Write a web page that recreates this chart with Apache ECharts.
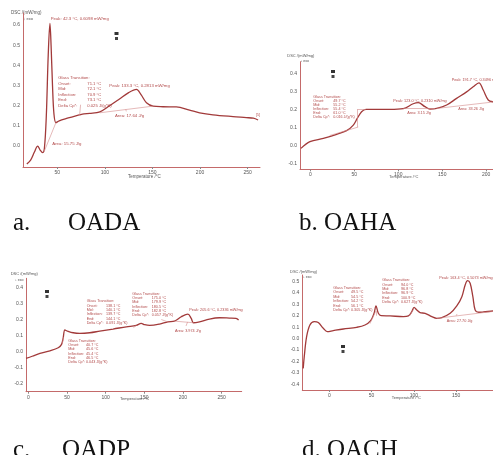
<!DOCTYPE html>
<html><head><meta charset="utf-8">
<script src="https://cdn.jsdelivr.net/npm/echarts@6/dist/echarts.min.js"></script>
<style>html,body{margin:0;padding:0;background:#fff}#c{width:493px;height:455px}</style>
</head><body><div id="c"></div>
<script>
// ---------- DATA ----------
const captions = ['a.', 'OADA', 'b. OAHA', 'c.', 'OADP', 'd. OACH'];
const xTicks = [0, 50, 100, 150, 200, 250];
const yTicksA = [0.0, 0.1, 0.2, 0.3, 0.4, 0.5, 0.6];
const yTicksB = [-0.1, 0.0, 0.1, 0.2, 0.3, 0.4];
const yTicksC = [-0.2, -0.1, 0.0, 0.1, 0.2, 0.3, 0.4];
const yTicksD = [-0.4, -0.3, -0.2, -0.1, 0.0, 0.1, 0.2, 0.3, 0.4, 0.5];

// OADA
const curveA = [[18,-0.089],[22,-0.07],[26,-0.03],[29.4,0.0],[32,-0.02],[34.6,-0.033],[36.5,-0.01],[38.5,0.15],[40.5,0.45],[42.3,0.608],[43.5,0.5],[45,0.3],[46.5,0.16],[48.6,0.116],[52,0.125],[59.8,0.137],[66,0.145],[73,0.154],[78,0.16],[84,0.162],[94.8,0.17],[105,0.2],[115,0.232],[125,0.265],[133.2,0.281],[138,0.255],[143.7,0.215],[150.7,0.198],[161,0.195],[175,0.194],[189,0.178],[199.6,0.165],[213.6,0.155],[234.6,0.146],[248.6,0.141],[256,0.138],[261,0.129]];
const guidesA = [[[48.6,0.116],[36,-0.03]],[[94.8,0.165],[150.7,0.198]],[[73.5,0.154],[74.5,0.205]],[[122,0.182],[122.5,0.172]]];
// OAHA
const curveB = [[-10.6,-0.013],[-0.4,0.024],[14.8,0.042],[30,0.065],[41.3,0.085],[48.9,0.116],[53.4,0.153],[58.3,0.19],[63.3,0.203],[75.4,0.203],[90.5,0.203],[105.7,0.207],[117,0.234],[122.7,0.24],[130.3,0.218],[136,0.205],[143.6,0.208],[155,0.227],[166.3,0.264],[177.7,0.3],[185.2,0.328],[191.7,0.35],[196.6,0.31],[202.3,0.255],[207.6,0.245],[215,0.243]];
const guidesB = [[[22,0.058],[54.5,0.105]],[[53.4,0.105],[53.4,0.203]],[[53.4,0.203],[63,0.203]],[[105.7,0.207],[141.7,0.207]],[[143.6,0.208],[210,0.245]]];
// OADP
const curveC = [[-3,-0.041],[5,-0.028],[15,-0.01],[28,0.006],[38.7,0.025],[43,0.046],[45,0.083],[47.3,0.135],[50.7,0.128],[58,0.118],[66.6,0.114],[79.5,0.118],[92.4,0.128],[109.6,0.141],[126.8,0.155],[139.7,0.164],[146,0.176],[150.5,0.168],[157,0.164],[169.8,0.172],[180.5,0.186],[189,0.19],[197.8,0.217],[206.4,0.234],[210.7,0.207],[213.7,0.18],[221.4,0.186],[234.3,0.203],[247.2,0.211],[260,0.209],[268.7,0.207],[272,0.197]];
const guidesC = [[[45.6,0.09],[44,0.05]],[[140,0.164],[136,0.15]],[[180,0.186],[172,0.2]],[[189,0.19],[214,0.18]],[[206,0.185],[204,0.16]]];
// OACH
const curveD = [[-30.8,-0.259],[-29.6,-0.157],[-26.8,0.017],[-22.9,0.119],[-17.8,0.148],[-13,0.14],[-7.1,0.09],[-2.4,0.061],[4.7,0.07],[16.6,0.084],[32.4,0.099],[42.2,0.119],[48.9,0.157],[52.9,0.221],[55.2,0.285],[58,0.221],[61.2,0.2],[71.8,0.198],[87.6,0.192],[93.5,0.198],[97.5,0.235],[100.2,0.273],[103.4,0.25],[107.3,0.227],[113.3,0.221],[121.2,0.192],[127,0.177],[133,0.183],[142.9,0.221],[150.7,0.285],[156.7,0.366],[160.6,0.468],[163.4,0.506],[166.5,0.483],[169.7,0.366],[172.4,0.25],[176.4,0.23],[182.3,0.233],[193.8,0.241],[200,0.243]];
const guidesD = [[[48,0.13],[55,0.24]],[[55,0.24],[55,0.2]],[[95,0.2],[100,0.26]],[[127,0.177],[200,0.243]],[[150,0.2],[151,0.215]]];

// annotation texts
const gtA = ['Glass Transition:','Onset:','Mid:','Inflection:','End:','Delta Cp*:'];
const gtValA = ['','71.1 °C','72.1 °C','70.9 °C','73.1 °C','0.025 J/(g*K)'];
const gtValB = ['','49.7 °C','55.2 °C','55.4 °C','61.0 °C','0.016 J/(g*K)'];
const gtValC1 = ['','138.1 °C','140.1 °C','139.7 °C','144.1 °C','0.091 J/(g*K)'];
const gtValC2 = ['','175.0 °C','179.9 °C','180.5 °C','182.8 °C','0.057 J/(g*K)'];
const gtValC3 = ['','40.7 °C','45.6 °C','45.4 °C','46.5 °C','0.043 J/(g*K)'];
const gtValD1 = ['','49.5 °C','54.5 °C','54.2 °C','56.1 °C','0.305 J/(g*K)'];
const gtValD2 = ['','94.0 °C','96.8 °C','96.9 °C','100.9 °C','0.627 J/(g*K)'];

// ---------- CHART ----------
const RED = '#a23a3a', AX = '#c46a6a', TX = '#b24a4a', LAB = '#555';
const panels = [
  {grid:{left:23, top:13, width:237, height:154}, x:[14,263], y:[-0.104,0.66], yt:yTicksA, data:curveA, g:guidesA},
  {grid:{left:300, top:61.7, width:239, height:107.6}, x:[-11.7,260], y:[-0.129,0.467], yt:yTicksB, data:curveB, g:guidesB},
  {grid:{left:26, top:278.3, width:215.7, height:113.4}, x:[-3,276], y:[-0.248,0.456], yt:yTicksC, data:curveC, g:guidesC},
  {grid:{left:302.3, top:275, width:238.5, height:115}, x:[-31.9,250], y:[-0.448,0.555], yt:yTicksD, data:curveD, g:guidesD}
];
const font = 'Liberation Sans, Arial, sans-serif';
const option = {animation:false, backgroundColor:'#fff', grid:[], xAxis:[], yAxis:[], series:[], graphic:[]};
panels.forEach((p,i)=>{
  option.grid.push(Object.assign({containLabel:false, outerBoundsMode:'none'}, p.grid));
  option.xAxis.push({type:'value', gridIndex:i, min:p.x[0], max:p.x[1],
    axisLine:{onZero:false, lineStyle:{color:AX, width:1}},
    axisTick:{customValues:xTicks.filter(v=>v>=p.x[0]&&v<=p.x[1]), length:2, lineStyle:{color:'#888'}},
    axisLabel:{customValues:xTicks.filter(v=>v>=p.x[0]&&v<=p.x[1]), fontSize:5, color:LAB, margin:3, fontFamily:font, hideOverlap:false},
    splitLine:{show:false}});
  option.yAxis.push({type:'value', gridIndex:i, min:p.y[0], max:p.y[1],
    axisLine:{show:true, onZero:false, lineStyle:{color:AX, width:1}},
    axisTick:{show:false},
    axisLabel:{customValues:p.yt, fontSize:5, color:LAB, margin:3, fontFamily:font, formatter:v=>v.toFixed(1)},
    splitLine:{show:false}});
  option.series.push({type:'line', xAxisIndex:i, yAxisIndex:i, data:p.data, showSymbol:false, smooth:0.35,
    lineStyle:{color:RED, width:1.3}, silent:true,
    markLine:{silent:true, symbol:'none', label:{show:false}, lineStyle:{color:'#d48a8a', width:0.6, type:'solid'},
      data:p.g.map(s=>[{coord:s[0]},{coord:s[1]}])}});
});
function T(x,y,s,size,color){
  return {type:'text', x:x, y:y, silent:true,
    style:{text:s, fontSize:size, fill:color||TX, fontFamily:font, verticalAlign:'middle'}};
}
function block(x,y,vx,vals,size,lh){
  option.graphic.push({type:'text',x:x,y:y,silent:true,style:{text:gtA.join('\n'),fontSize:size,fill:TX,fontFamily:font,lineHeight:lh,verticalAlign:'top'}});
  option.graphic.push({type:'text',x:vx,y:y,silent:true,style:{text:vals.join('\n'),fontSize:size,fill:TX,fontFamily:font,lineHeight:lh,verticalAlign:'top'}});
}
function icon(x,y){
  option.graphic.push({type:'rect',shape:{x:x,y:y,width:4,height:3},style:{fill:'#333'},silent:true});
  option.graphic.push({type:'rect',shape:{x:x+0.5,y:y+5,width:3,height:3},style:{fill:'#444'},silent:true});
}
const G = option.graphic;
// panel a
G.push(T(11,13,'DSC /(mW/mg)',4.5,LAB), T(23.5,18.5,'↓ exo',4,LAB));
G.push(T(50.7,19,'Peak: 42.3 °C, 0.6098 mW/mg',4.3));
block(58.3,75,87.3,gtValA,4.2,5.6);
G.push(T(109.3,86,'Peak: 133.3 °C, 0.2813 mW/mg',4.3), T(115,115.7,'Area: 17.64 J/g',4.3), T(52.3,144,'Area: 15.75 J/g',4.3));
G.push(T(128,176.5,'Temperature /°C',4.5,LAB), T(256,115,'[5]',3.5));
icon(114.5,32);
// panel b
G.push(T(287.3,55.7,'DSC /(mW/mg)',4,LAB), T(300.5,60.5,'↓ exo',3.6,LAB));
block(313.3,94.8,333.3,gtValB,3.7,4.1);
G.push(T(393.3,100.7,'Peak: 123.0 °C, 0.2310 mW/mg',3.8), T(407.3,113.3,'Area: 3.15 J/g',3.8), T(458.3,109.3,'Area: 33.26 J/g',3.8), T(451.7,80,'Peak: 191.7 °C, 0.3496 mW/mg',3.8));
G.push(T(389.3,177,'Temperature /°C',4,LAB));
icon(331,70);
// panel c
G.push(T(10.7,274,'DSC /(mW/mg)',4,LAB), T(15,280,'↓ exo',3.6,LAB));
block(86.7,299.3,106,gtValC1,3.7,4.3);
block(132.3,291.5,151.7,gtValC2,3.7,4.3);
block(68.3,338.5,86,gtValC3,3.7,4.3);
G.push(T(189.3,310,'Peak: 205.6 °C, 0.2336 mW/mg',3.8), T(175,330.7,'Area: 3.974 J/g',3.8));
G.push(T(120,398.5,'Temperature /°C',4,LAB));
icon(45,290);
// panel d
G.push(T(290,272.3,'DSC /(mW/mg)',4,LAB), T(303,276.7,'↓ exo',3.6,LAB));
block(333.3,285.8,351,gtValD1,3.7,4.4);
block(382.3,278,401,gtValD2,3.7,4.4);
G.push(T(439.3,277.7,'Peak: 163.4 °C, 0.5073 mW/mg',3.8), T(446.7,320.7,'Area: 27.70 J/g',3.8));
G.push(T(391.7,397.7,'Temperature /°C',4,LAB));
icon(341,345);
// captions
const capFont = 'Liberation Serif, Times New Roman, serif';
const capPos = [[13,223],[68,223],[299,223],[13,450],[62,450],[302,450]];
captions.forEach((c,i)=>G.push({type:'text',x:capPos[i][0],y:capPos[i][1],silent:true,
  style:{text:c,fontSize:25,fill:'#111',fontFamily:capFont,verticalAlign:'middle'}}));

const chart = echarts.init(document.getElementById('c'), null, {renderer:'canvas'});
chart.setOption(option);
</script></body></html>
